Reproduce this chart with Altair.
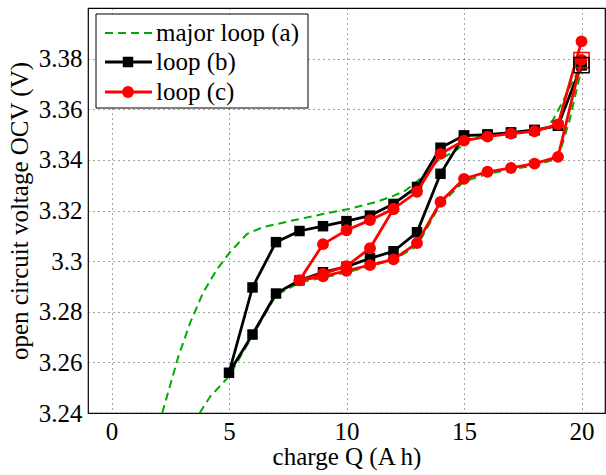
import altair as alt
import pandas as pd

# ---- data ----
# major loop (a): upper (charge) branch and lower (discharge) branch
major_upper_q = [2.16, 2.36, 2.84, 3.35, 3.9, 4.49, 5.04, 5.76, 6.44, 7.58, 9.0, 10.1, 11.27,
                 12.0, 12.5, 13.2, 13.9, 14.66, 15.3, 16.0, 17.0, 18.0, 18.5, 18.8, 19.2, 20.0]
major_upper_v = [3.240, 3.2465, 3.2622, 3.2757, 3.2876, 3.2968, 3.3035, 3.3107, 3.3134, 3.3158,
                 3.3186, 3.3206, 3.3234, 3.3258, 3.3278, 3.3330, 3.3398, 3.3437, 3.3485, 3.3497,
                 3.3507, 3.3517, 3.3525, 3.3560, 3.3630, 3.3780]
major_lower_q = [3.75, 4.2, 5.0, 6.0, 7.0, 8.0, 9.0, 10.0, 11.0, 12.0, 13.0, 14.0, 15.0,
                 16.0, 17.0, 18.0, 19.0, 19.5, 20.0]
major_lower_v = [3.240, 3.2465, 3.2545, 3.2705, 3.2865, 3.2915, 3.2935, 3.2955, 3.2980,
                 3.3005, 3.3060, 3.3225, 3.3315, 3.3345, 3.3362, 3.3378, 3.3405, 3.3560, 3.3760]

# loop (b)
loop_b_q = [20, 19, 18, 17, 16, 15, 14, 13, 12, 11, 10, 9, 8, 7, 6, 5,
            6, 7, 8, 9, 10, 11, 12, 13, 14, 15, 16, 17, 18, 19, 20]
loop_b_v = [3.3774, 3.3535, 3.3518, 3.3508, 3.3500, 3.3496, 3.3345, 3.3114, 3.3039, 3.3011,
            3.2978, 3.2956, 3.2924, 3.2872, 3.2710, 3.2559,
            3.2896, 3.3075, 3.3119, 3.3138, 3.3158, 3.3180, 3.3226, 3.3293, 3.3448, 3.3496,
            3.3500, 3.3508, 3.3518, 3.3535, 3.3774]

# loop (c): main path and the inner scanning path between 8 and 12 A h
loop_c1_q = [20, 19, 18, 17, 16, 15, 14, 13, 12, 11, 10, 9, 8,
             9, 10, 11, 12, 13, 14, 15, 16, 17, 18, 19, 20]
loop_c1_v = [3.3795, 3.3412, 3.3385, 3.3368, 3.3353, 3.3325, 3.3234, 3.3071, 3.3007, 3.2984,
             3.2962, 3.2940, 3.2924,
             3.2950, 3.2980, 3.3051, 3.3206, 3.3274, 3.3424, 3.3476, 3.3492, 3.3504, 3.3513,
             3.3540, 3.3868]
loop_c2_q = [8, 9, 10, 11, 12]
loop_c2_v = [3.2924, 3.3067, 3.3122, 3.3162, 3.3206]

# start points (hollow squares)
start_q = [20, 20]
start_v = [3.3794, 3.3774]
start_loop = ["c", "b"]

x_ticks = [0, 5, 10, 15, 20]
y_ticks = [3.24, 3.26, 3.28, 3.30, 3.32, 3.34, 3.36, 3.38]
legend_labels = ["major loop (a)", "loop (b)", "loop (c)"]

FONT = "Liberation Serif"
GREEN = "#00aa00"


def frame(q, v, part):
    return pd.DataFrame({"q": q, "v": v, "part": part, "order": list(range(len(q)))})


major = pd.concat([frame(major_upper_q, major_upper_v, "upper"),
                   frame(major_lower_q, major_lower_v, "lower")], ignore_index=True)
loop_b = frame(loop_b_q, loop_b_v, "b")
loop_c = pd.concat([frame(loop_c1_q, loop_c1_v, "c1"),
                    frame(loop_c2_q, loop_c2_v, "c2")], ignore_index=True)
start = pd.DataFrame({"q": start_q, "v": start_v, "loop": start_loop})

X = alt.X("q:Q",
          scale=alt.Scale(domain=[-1, 21], nice=False, zero=False),
          axis=alt.Axis(values=x_ticks, title="charge Q (A h)", format="d",
                        labelFont=FONT, titleFont=FONT))
Y = alt.Y("v:Q",
          scale=alt.Scale(domain=[3.24, 3.40], nice=False, zero=False),
          axis=alt.Axis(values=y_ticks, title="open circuit voltage OCV (V)", format=".2~f",
                        labelFont=FONT, titleFont=FONT))

green = alt.Chart(major).mark_line(color=GREEN, strokeWidth=2, strokeDash=[8, 5]).encode(
    x=X, y=Y, detail="part:N", order="order:Q")

black = alt.Chart(loop_b).mark_line(
    color="black", strokeWidth=2.8,
    point=alt.OverlayMarkDef(shape="square", size=110, filled=True, color="black", opacity=1)
).encode(x=X, y=Y, detail="part:N", order="order:Q")

red = alt.Chart(loop_c).mark_line(
    color="red", strokeWidth=2.8,
    point=alt.OverlayMarkDef(shape="circle", size=140, filled=True, color="red", opacity=1)
).encode(x=X, y=Y, detail="part:N", order="order:Q")

starts = alt.Chart(start).mark_point(shape="square", size=230, filled=False, strokeWidth=1.5,
                                     opacity=1).encode(
    x=X, y=Y,
    color=alt.Color("loop:N", scale=alt.Scale(domain=["c", "b"], range=["red", "black"]),
                    legend=None))

# ---- manual legend (MATLAB style box) ----
one = alt.Data(values=[{"k": 1}])
legend_box = alt.Chart(one).mark_rect(fill="white", stroke="black", strokeWidth=1).encode(
    x=alt.value(8), x2=alt.value(220), y=alt.value(6), y2=alt.value(100))

leg_rows = [25, 54, 84]
leg_layers = [legend_box]
leg_layers.append(alt.Chart(one).mark_rule(color=GREEN, strokeWidth=2, strokeDash=[8, 5]).encode(
    x=alt.value(17), x2=alt.value(64), y=alt.value(leg_rows[0])))
leg_layers.append(alt.Chart(one).mark_rule(color="black", strokeWidth=2.8).encode(
    x=alt.value(17), x2=alt.value(64), y=alt.value(leg_rows[1])))
leg_layers.append(alt.Chart(one).mark_point(shape="square", size=110, filled=True, color="black",
                                            opacity=1).encode(
    x=alt.value(40), y=alt.value(leg_rows[1])))
leg_layers.append(alt.Chart(one).mark_rule(color="red", strokeWidth=2.8).encode(
    x=alt.value(17), x2=alt.value(64), y=alt.value(leg_rows[2])))
leg_layers.append(alt.Chart(one).mark_point(shape="circle", size=140, filled=True, color="red",
                                            opacity=1).encode(
    x=alt.value(40), y=alt.value(leg_rows[2])))
for lab, row in zip(legend_labels, leg_rows):
    leg_layers.append(alt.Chart(one).mark_text(align="left", baseline="middle", font=FONT,
                                               fontSize=25, color="black").encode(
        x=alt.value(68), y=alt.value(row), text=alt.value(lab)))

chart = alt.layer(green, black, red, starts, *leg_layers).properties(
    width=517, height=405,
    autosize=alt.AutoSizeParams(type="none"),
    padding={"left": 88, "top": 8, "right": 1, "bottom": 62},
).configure(
    font=FONT
).configure_view(
    stroke="black", strokeWidth=1.2
).configure_axis(
    labelFont=FONT, labelFontSize=25, labelColor="black",
    titleFont=FONT, titleFontSize=25, titleFontWeight="normal", titleColor="black",
    grid=True, gridColor="#333333", gridDash=[1, 4], gridWidth=1, gridOpacity=0.9,
    domain=False, ticks=False, labelPadding=6,
).configure_axisX(titlePadding=0).configure_axisY(titlePadding=6)

chart.save("out.html", embed_options={"renderer": "svg", "actions": False})
